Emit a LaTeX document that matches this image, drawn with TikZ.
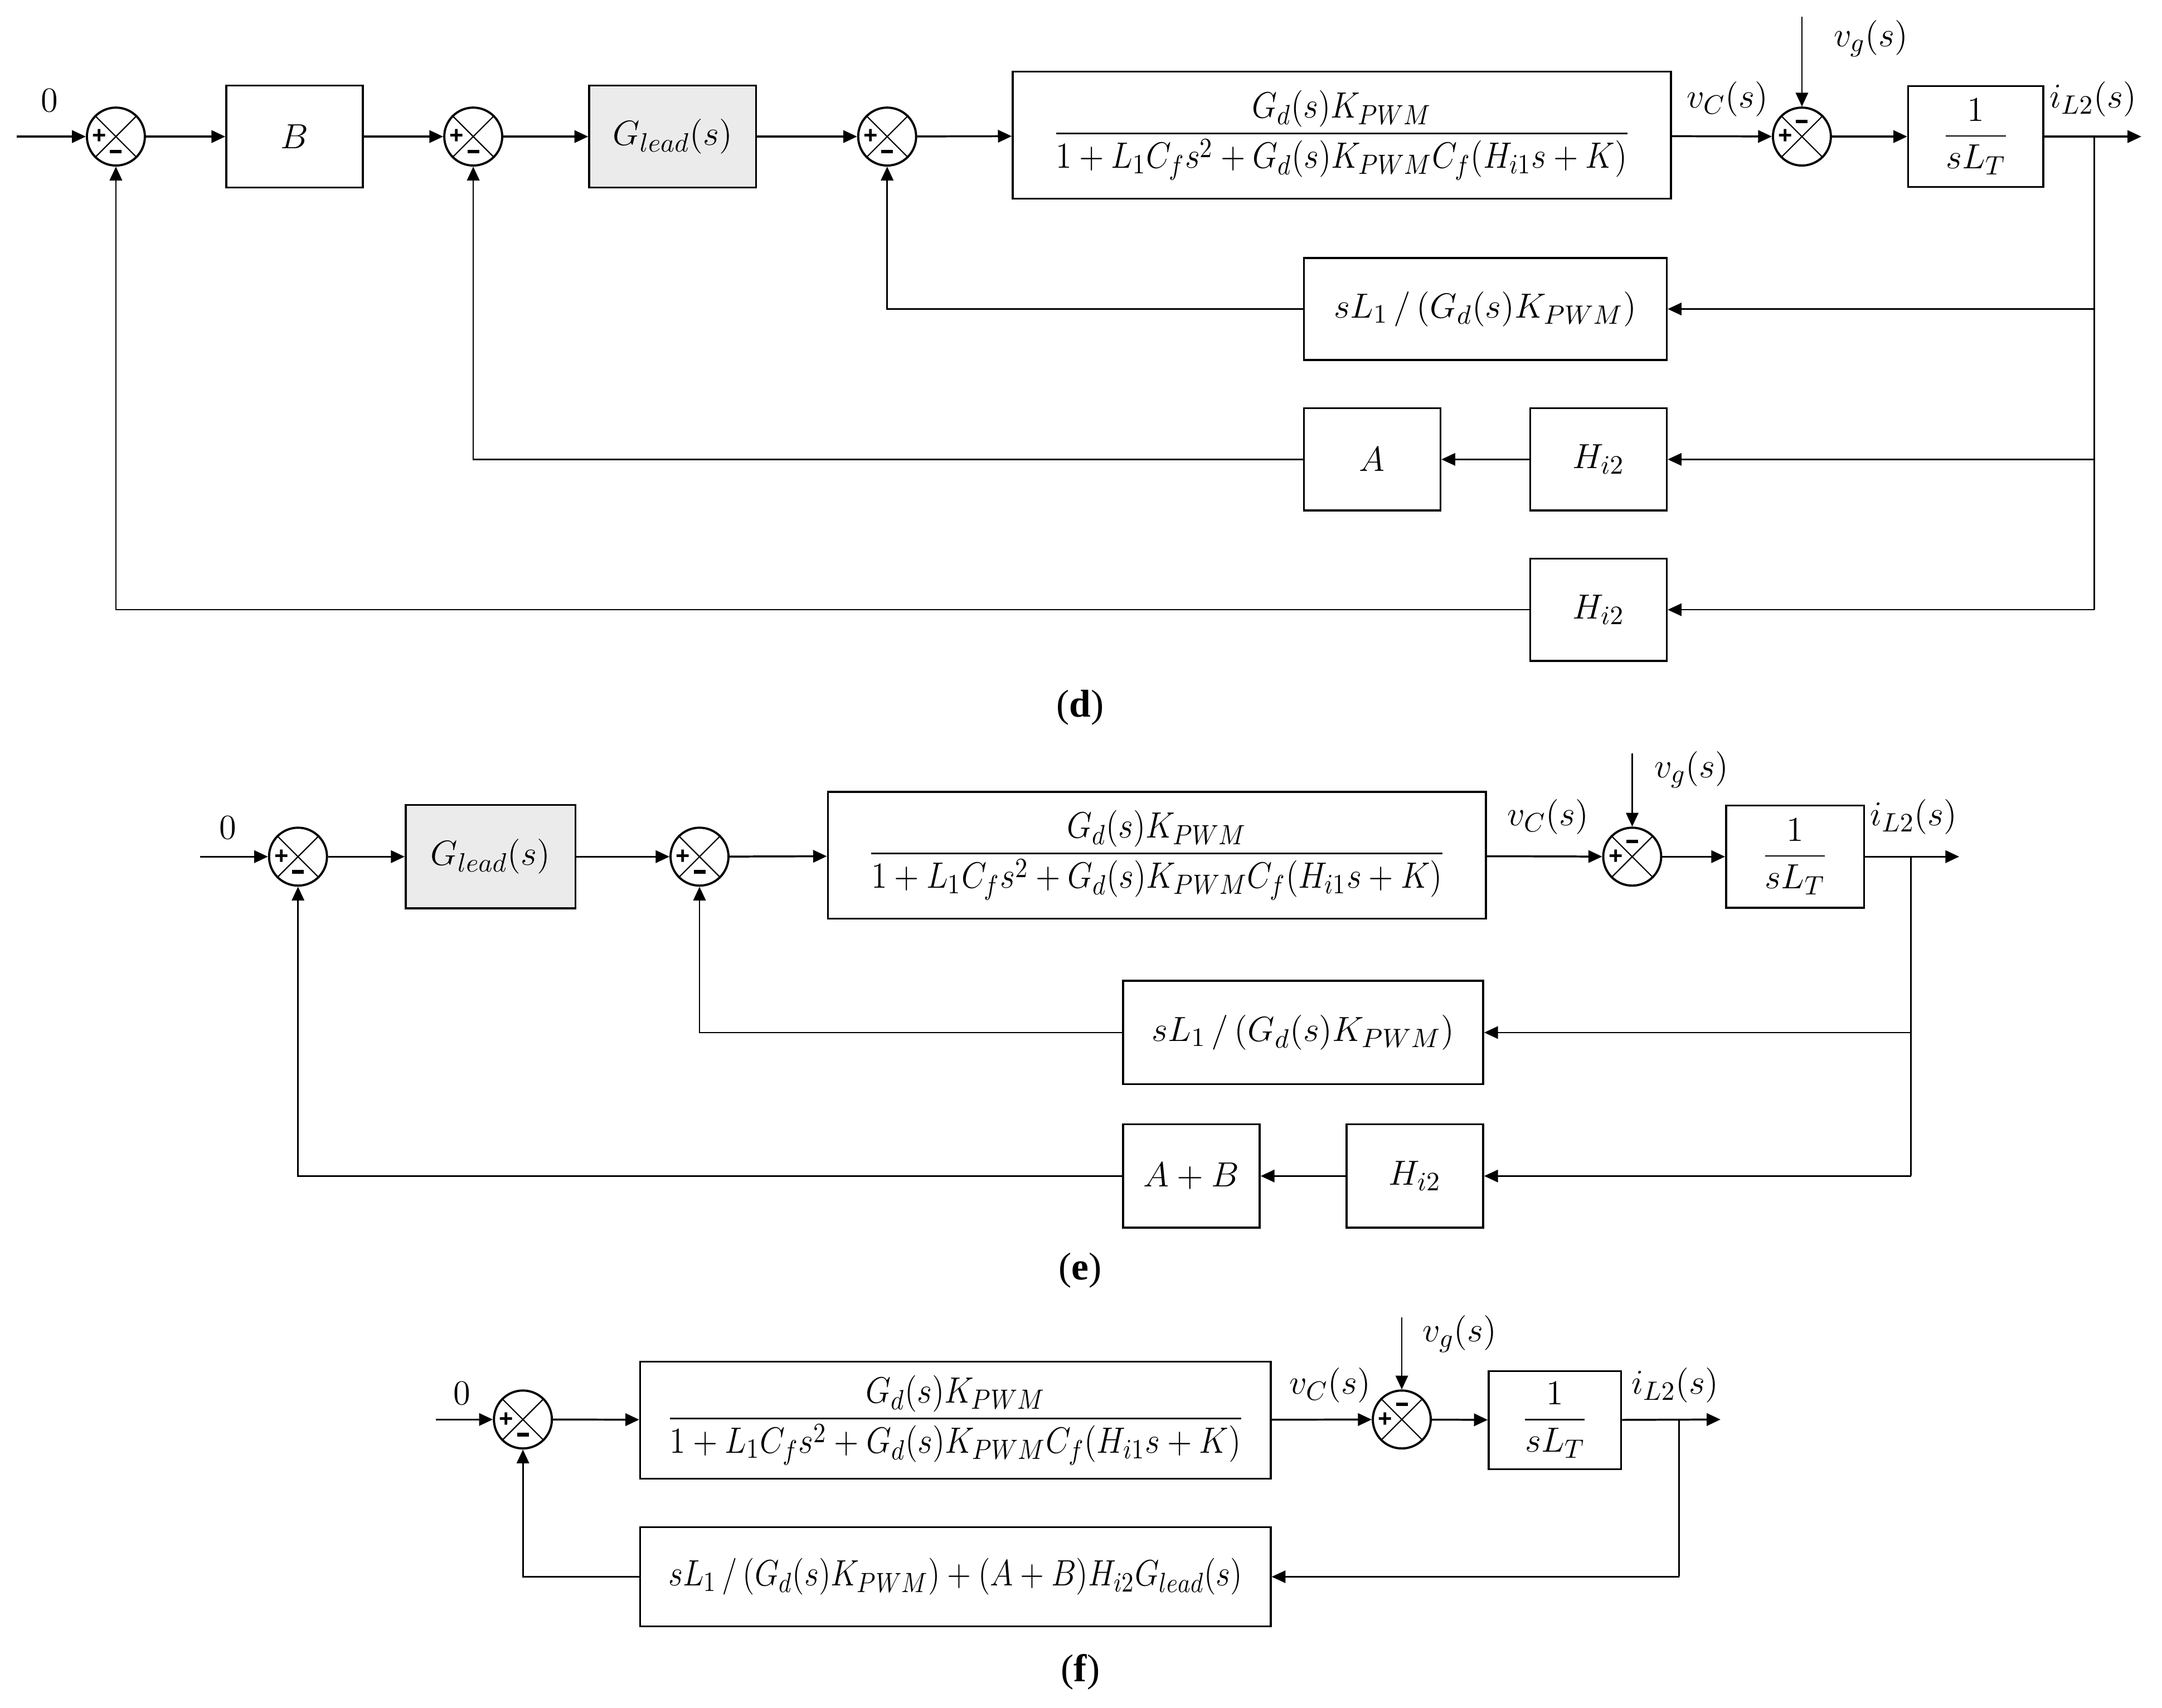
\documentclass[tikz,border=0pt]{standalone}
\usepackage{amsmath}
\usepackage{graphicx}
\usepackage{fontspec}
\setmainfont{Liberation Serif}
\newfontfamily\signfont{Liberation Sans}
\usetikzlibrary{arrows.meta,calc}
\definecolor{leadgray}{HTML}{EBEBEB}
\newcommand{\PlantTF}{\scalebox{0.93}[1.05]{$\dfrac{G_d(s)K_{PWM}}{1+L_1C_fs^2+G_d(s)K_{PWM}C_f(H_{i1}s+K)}$}}
\tikzset{
 txt/.style={font=\fontsize{15}{18}\selectfont},
 blk/.style={draw, line width=0.8pt, inner sep=0pt, txt},
 sumnode/.style={circle, draw, line width=0.9pt, minimum size=8.4mm, inner sep=0pt},
 sig/.style={line width=0.8pt, -{Triangle[length=2mm,width=1.8mm]}},
 fb/.style={line width=0.6pt},
 lbl/.style={txt, inner sep=0pt},
 sign/.style={font=\signfont\bfseries\fontsize{10}{10}\selectfont, inner sep=0pt},
 captxt/.style={font=\fontsize{16}{18}\selectfont, inner sep=0pt},
}
\newcommand{\Summer}[3]{%
 \node[sumnode] (#1) at (#2) {};
 \draw[line width=0.5pt] (#1.north west) -- (#1.south east) (#1.north east) -- (#1.south west);
 \node[sign] at ($(#1.center)+(-12,0)$) {+};
 \node[sign] at ($(#1.center)+(0,11*#3)$) {\rule{1.7mm}{0.5mm}};
}
\begin{document}
\begin{tikzpicture}[x=0.2mm, y=-0.2mm]
\useasboundingbox (0,0) rectangle (1567,1238);
% ================= panel (d) =================
\coordinate (ind) at (12,99);
\node[lbl] (zd) at (36,73) {$0$};
\Summer{s1d}{84,99}{1}
\node[blk, minimum width=19.8mm, minimum height=14.8mm] (Bd) at (213.5,99) {$B$};
\Summer{s2d}{343,99}{1}
\node[blk, fill=leadgray, minimum width=24.2mm, minimum height=14.8mm] (Gld) at (487.5,99) {$G_{lead}(s)$};
\Summer{s3d}{643,99}{1}
\node[blk, minimum width=95.4mm, minimum height=18.4mm] (Pd) at (972.5,98) {\PlantTF};
\node[lbl] (vCd) at (1252,72) {$v_C(s)$};
\Summer{s4d}{1306,99}{-1}
\coordinate (vgd) at (1306,12);
\node[lbl] (vgld) at (1356,28) {$v_g(s)$};
\node[blk, minimum width=19.6mm, minimum height=14.6mm] (Ld) at (1432,99) {$\dfrac{1}{sL_T}$};
\node[lbl] (iLd) at (1517,72) {$i_{L2}(s)$};
\coordinate (brd) at (1518,99);
\coordinate (outd) at (1552,99);
\node[blk, minimum width=52.6mm, minimum height=14.8mm] (F1d) at (1076.5,224) {$sL_1\,/\,(G_d(s)K_{PWM})$};
\node[blk, minimum width=19.8mm, minimum height=14.8mm] (Ad) at (994.5,333) {$A$};
\node[blk, minimum width=19.8mm, minimum height=14.8mm] (H1d) at (1158.5,333) {$H_{i2}$};
\node[blk, minimum width=19.8mm, minimum height=14.8mm] (H2d) at (1158.5,442) {$H_{i2}$};
\draw[sig] (ind) -- (s1d);
\draw[sig] (s1d) -- (Bd);
\draw[sig] (Bd) -- (s2d);
\draw[sig] (s2d) -- (Gld);
\draw[sig] (Gld) -- (s3d);
\draw[sig] (s3d) -- (Pd);
\draw[sig] (Pd) -- (s4d);
\draw[sig, line width=0.6pt] (vgd) -- (s4d);
\draw[sig] (s4d) -- (Ld);
\draw[sig] (Ld) -- (outd);
\draw[fb] (brd) -- (brd |- H2d);
\draw[sig, line width=0.6pt] (brd |- F1d) -- (F1d);
\draw[sig, line width=0.6pt] (brd |- H1d) -- (H1d);
\draw[sig, line width=0.6pt] (brd |- H2d) -- (H2d);
\draw[sig, line width=0.6pt] (H1d) -- (Ad);
\draw[sig, line width=0.6pt] (F1d.west) -| (s3d.south);
\draw[sig, line width=0.6pt] (Ad.west) -| (s2d.south);
\draw[sig, line width=0.6pt] (H2d.west) -| (s1d.south);
\node[captxt] (capd) at (783,513) {(\textbf{d})};
% ================= panel (e) =================
\coordinate (ine) at (145,621);
\node[lbl] (ze) at (165,600) {$0$};
\Summer{s1e}{216,621}{1}
\node[blk, fill=leadgray, minimum width=24.6mm, minimum height=15mm] (Gle) at (355.5,621) {$G_{lead}(s)$};
\Summer{s2e}{507,621}{1}
\node[blk, minimum width=95.4mm, minimum height=18.4mm] (Pe) at (838.5,620) {\PlantTF};
\node[lbl] (vCe) at (1122,592) {$v_C(s)$};
\Summer{s3e}{1183,621}{-1}
\coordinate (vge) at (1183,546);
\node[lbl] (vgle) at (1226,558) {$v_g(s)$};
\node[blk, minimum width=20mm, minimum height=14.8mm] (Le) at (1301,621) {$\dfrac{1}{sL_T}$};
\node[lbl] (iLe) at (1387,592) {$i_{L2}(s)$};
\coordinate (bre) at (1385,621);
\coordinate (oute) at (1420,621);
\node[blk, minimum width=52.2mm, minimum height=15mm] (F1e) at (944.5,748.5) {$sL_1\,/\,(G_d(s)K_{PWM})$};
\node[blk, minimum width=19.8mm, minimum height=15mm] (ABe) at (863.5,852.5) {$A+B$};
\node[blk, minimum width=19.8mm, minimum height=15mm] (He) at (1025.5,852.5) {$H_{i2}$};
\draw[sig] (ine) -- (s1e);
\draw[sig] (s1e) -- (Gle);
\draw[sig] (Gle) -- (s2e);
\draw[sig] (s2e) -- (Pe);
\draw[sig] (Pe) -- (s3e);
\draw[sig, line width=0.6pt] (vge) -- (s3e);
\draw[sig] (s3e) -- (Le);
\draw[sig] (Le) -- (oute);
\draw[fb] (bre) -- (bre |- He);
\draw[sig, line width=0.6pt] (bre |- F1e) -- (F1e);
\draw[sig, line width=0.6pt] (bre |- He) -- (He);
\draw[sig, line width=0.6pt] (He) -- (ABe);
\draw[sig, line width=0.6pt] (F1e.west) -| (s2e.south);
\draw[sig, line width=0.6pt] (ABe.west) -| (s1e.south);
\node[captxt] (cape) at (783,921) {(\textbf{e})};
% ================= panel (f) =================
\coordinate (inf) at (316,1029);
\node[lbl] (zf) at (335,1010) {$0$};
\Summer{s1f}{379,1029}{1}
\node[blk, minimum width=91.4mm, minimum height=17mm] (Pf) at (692.5,1029.5) {\PlantTF};
\node[lbl] (vCf) at (964,1004) {$v_C(s)$};
\Summer{s2f}{1016,1029}{-1}
\coordinate (vgf) at (1016,955);
\node[lbl] (vglf) at (1058,967) {$v_g(s)$};
\node[blk, minimum width=19.2mm, minimum height=14.2mm] (Lf) at (1127,1029.5) {$\dfrac{1}{sL_T}$};
\node[lbl] (iLf) at (1214,1004) {$i_{L2}(s)$};
\coordinate (brf) at (1217,1029);
\coordinate (outf) at (1247,1029);
\node[blk, minimum width=91.4mm, minimum height=14.4mm] (Ff) at (692.5,1143) {\scalebox{0.9}[1.05]{$sL_1\,/\,(G_d(s)K_{PWM})+(A+B)H_{i2}G_{lead}(s)$}};
\draw[sig] (inf) -- (s1f);
\draw[sig] (s1f) -- (Pf);
\draw[sig] (Pf) -- (s2f);
\draw[sig, line width=0.6pt] (vgf) -- (s2f);
\draw[sig] (s2f) -- (Lf);
\draw[sig] (Lf) -- (outf);
\draw[fb] (brf) -- (brf |- Ff);
\draw[sig, line width=0.6pt] (brf |- Ff) -- (Ff);
\draw[sig, line width=0.6pt] (Ff.west) -| (s1f.south);
\node[captxt] (capf) at (783,1212) {(\textbf{f})};
\end{tikzpicture}
\end{document}
